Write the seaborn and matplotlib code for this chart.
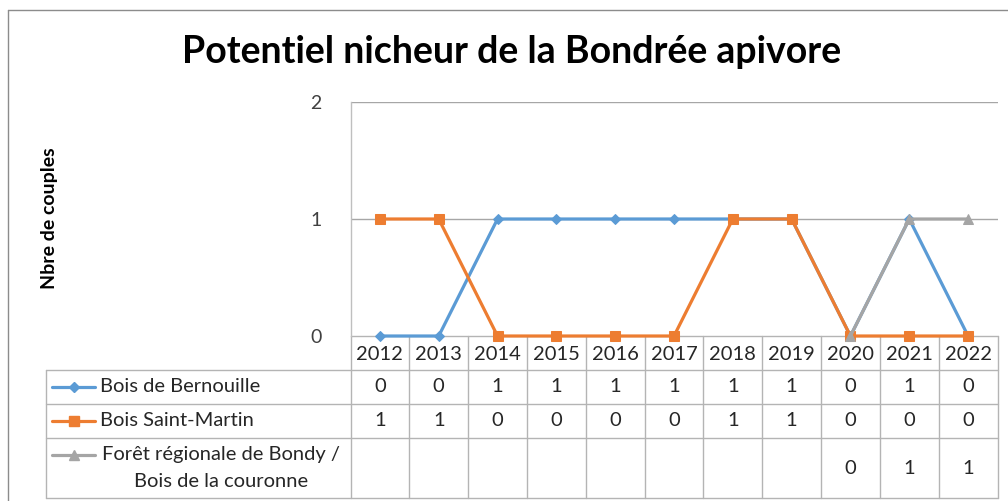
import matplotlib
matplotlib.use("Agg")
import matplotlib.pyplot as plt
import seaborn as sns
import numpy as np
import pandas as pd

# data
years = [2012, 2013, 2014, 2015, 2016, 2017, 2018, 2019, 2020, 2021, 2022]
bernouille = [0, 0, 1, 1, 1, 1, 1, 1, 0, 1, 0]
saint_martin = [1, 1, 0, 0, 0, 0, 1, 1, 0, 0, 0]
bondy = [np.nan] * 8 + [0, 1, 1]
series_names = ["Bois de Bernouille", "Bois Saint-Martin",
                "Forêt régionale de Bondy /\nBois de la couronne"]
series_values = [bernouille, saint_martin, bondy]
colors = ["#5B9BD5", "#ED7D31", "#A5A5A5"]
markers = ["D", "s", "^"]
msizes = [5.5, 6.5, 7.5]

title = "Potentiel nicheur de la Bondrée apivore"
ylabel = "Nbre de couples"

sns.set_theme(style="white")
plt.rcParams['font.family'] = ['Lato', 'DejaVu Sans']

W, H = 1008, 501
fig = plt.figure(figsize=(W / 100, H / 100), dpi=100)

# background axes in pixel coordinates (frame + data table)
bg = fig.add_axes([0, 0, 1, 1])
bg.set_xlim(0, W)
bg.set_ylim(H, 0)
bg.axis("off")

grid_c = "#BFBFBF"
bg.plot([8, 8], [10, H], color="#8C8C8C", lw=1)
bg.plot([8, W], [10, 10], color="#8C8C8C", lw=1)

# plot area
left, right, top, bottom = 350.5, 997.5, 102, 336
ax = fig.add_axes([left / W, 1 - bottom / H, (right - left) / W, (bottom - top) / H])
ax.set_xlim(-0.5, len(years) - 0.5)
ax.set_ylim(0, 2)
ax.set_facecolor("none")
for s in ["top", "right", "bottom"]:
    ax.spines[s].set_visible(False)
ax.spines["left"].set_color(grid_c)
ax.spines["left"].set_linewidth(1)
ax.set_yticks([0, 1, 2])
ax.set_yticklabels(["0", "1", "2"], fontsize=14, color="#404040")
ax.tick_params(axis="y", length=0, pad=21)
ax.set_xticks([])
for yv in [1, 2]:
    ax.axhline(yv, color="#A6A6A6", lw=1, zorder=0)

x_idx = np.arange(len(years))
for vals, c, m, ms in zip(series_values, colors, markers, msizes):
    df = pd.DataFrame({"x": x_idx, "y": vals})
    sns.lineplot(data=df, x="x", y="y", ax=ax, color=c, lw=2.3,
                 marker=m, markersize=ms, markeredgecolor=c, clip_on=False)
ax.set_xlabel("")
ax.set_ylabel("")

fig.text(512 / W, 1 - 52 / H, title, ha="center", va="center",
         fontsize=27, fontweight="bold", color="black")
fig.text(50 / W, 1 - 218 / H, ylabel, ha="center", va="center",
         rotation=90, fontsize=14, fontweight="bold", color="black")

# data table
col_w = (right - left) / len(years)
edges = [left + i * col_w for i in range(len(years) + 1)]
row_y = [336, 370, 404, 438, 498]
tl_c = "#B4B4B4"
for xe in edges:
    bg.plot([xe, xe], [row_y[0], row_y[-1]], color=tl_c, lw=1)
bg.plot([46, 46], [row_y[1], row_y[-1]], color=tl_c, lw=1)
bg.plot([left, right], [row_y[0], row_y[0]], color=tl_c, lw=1)
for yy in row_y[1:]:
    bg.plot([46, right], [yy, yy], color=tl_c, lw=1)

txt_c = "#262626"
for i, yr in enumerate(years):
    cx = (edges[i] + edges[i + 1]) / 2
    bg.text(cx, (row_y[0] + row_y[1]) / 2 + 1, str(yr), ha="center", va="center",
            fontsize=14.5, color=txt_c)

for r, (name, vals, c, m, ms) in enumerate(zip(series_names, series_values,
                                                 colors, markers, msizes)):
    y0, y1 = row_y[r + 1], row_y[r + 2]
    cy = (y0 + y1) / 2
    ky = cy if r < 2 else 455
    bg.plot([52, 95], [ky, ky], color=c, lw=2.3)
    bg.plot([73.5], [ky], color=c, marker=m, markersize=ms, markeredgecolor=c)
    if r < 2:
        bg.text(100, cy, name, ha="left", va="center", fontsize=14.5, color=txt_c)
    else:
        bg.text(221, cy, name, ha="center", va="center", fontsize=14.5,
                color=txt_c, linespacing=1.65)
    for i, v in enumerate(vals):
        if not np.isnan(v):
            cx = (edges[i] + edges[i + 1]) / 2
            bg.text(cx, cy, str(int(v)), ha="center", va="center",
                    fontsize=14.5, color=txt_c)

fig.savefig("out.png", dpi=100)
